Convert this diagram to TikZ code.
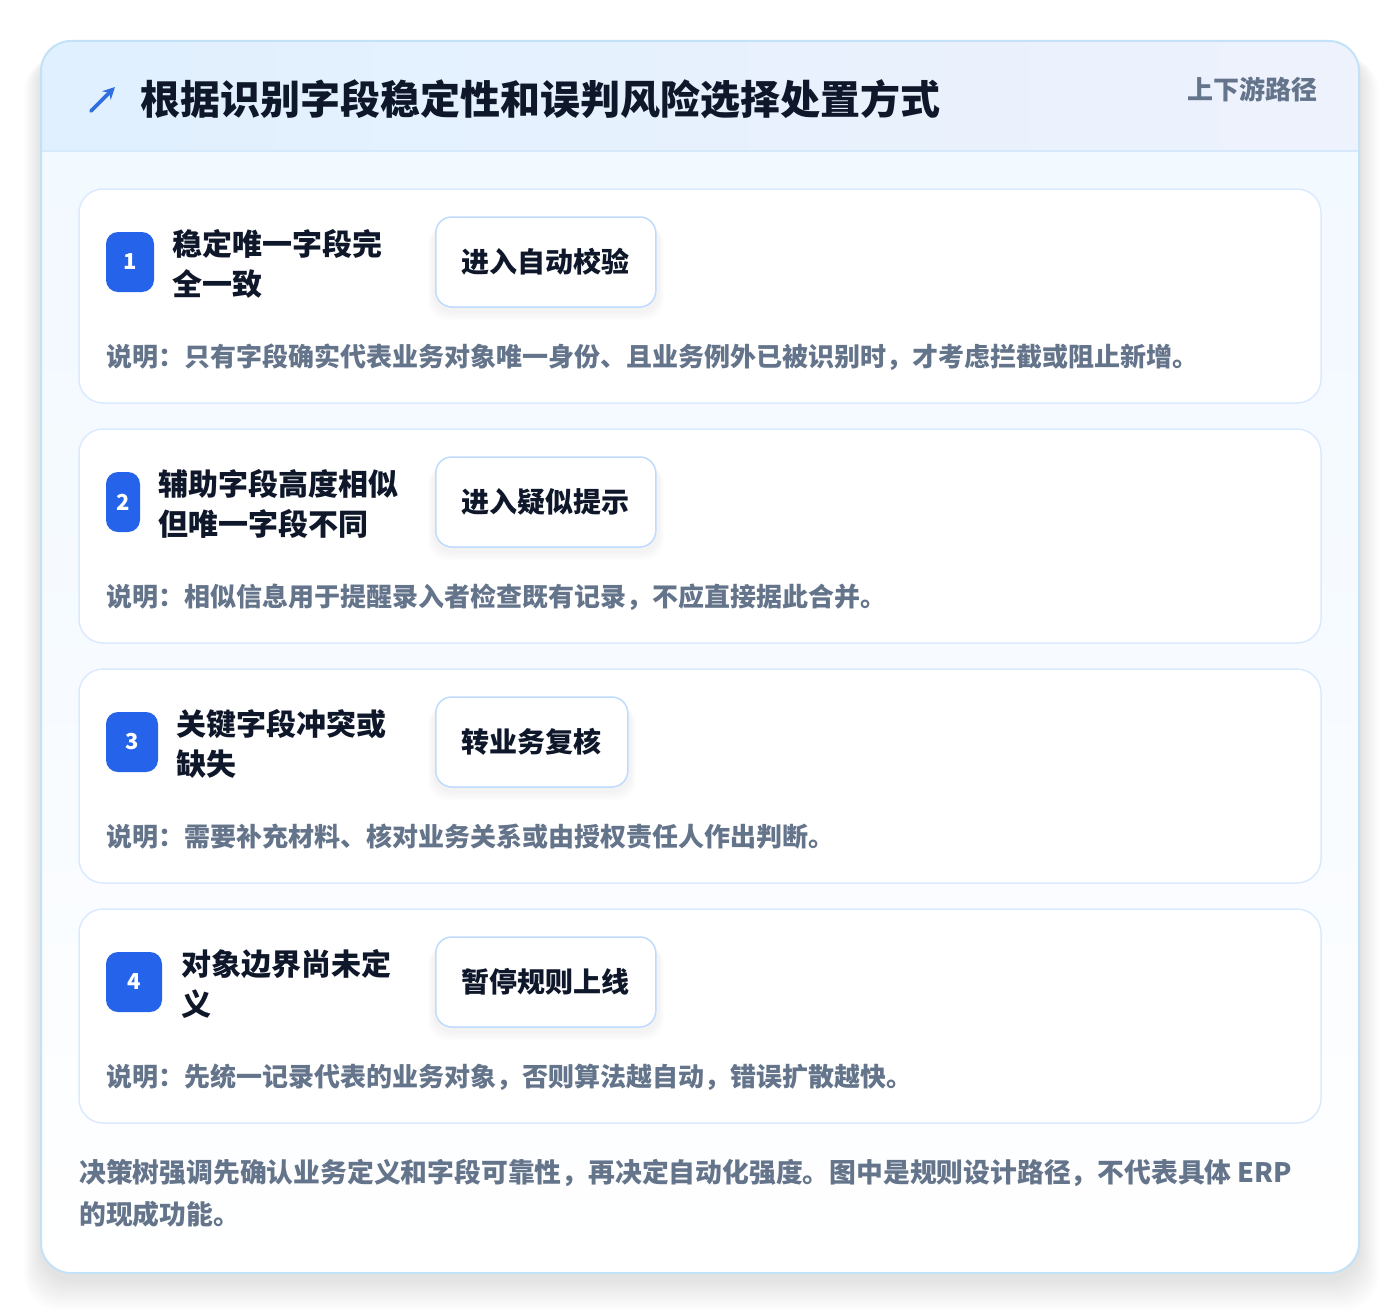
\documentclass[tikz,border=0pt]{standalone}
\usepackage{fontspec}
\newfontfamily\cjk{Noto Sans CJK SC}
\usetikzlibrary{arrows.meta}
\definecolor{ink}{HTML}{0F172A}
\definecolor{muted}{HTML}{64748B}
\definecolor{badgeblue}{HTML}{2563EB}
\definecolor{iconblue}{HTML}{2F6FE0}
\definecolor{cardline}{HTML}{DBEAFE}
\definecolor{actline}{HTML}{BFDBFE}
\definecolor{outerline}{HTML}{C3E2F7}
\definecolor{headL}{HTML}{E0F0FE}
\definecolor{headR}{HTML}{EEF2FD}
\definecolor{bodyT}{HTML}{F1F8FF}
\definecolor{divline}{HTML}{D6E9FB}
\tikzset{
  card/.style={draw=cardline, line width=1.5pt, fill=white, rounded corners=24pt,
    minimum width=1242pt, minimum height=214pt, inner sep=0pt},
  badge/.style={fill=badgeblue, rounded corners=12pt, minimum height=60pt,
    inner sep=0pt, text=white, font=\cjk\bfseries\fontsize{22}{22}\selectfont},
  cond/.style={anchor=west, inner sep=0pt, align=left, text=ink,
    font=\cjk\bfseries\fontsize{30}{40}\selectfont},
  action/.style={anchor=west, draw=actline, line width=1.5pt, fill=white,
    rounded corners=16pt, minimum height=90pt, inner xsep=26pt, inner ysep=0pt,
    text=ink, font=\cjk\bfseries\fontsize{28}{28}\selectfont},
  actshadow/.style={fill=black, opacity=0.008, rounded corners=20pt},
  desc/.style={anchor=west, inner sep=0pt, text=muted,
    font=\cjk\bfseries\fontsize{26}{26}\selectfont},
}
\begin{document}
\begin{tikzpicture}[x=1pt,y=-1pt]
\useasboundingbox (0,0) rectangle (1400,1314);
\fill[white] (0,0) rectangle (1400,1314);
% outer shadow
\foreach \i in {1,...,14}{
  \fill[black, opacity=0.0065, rounded corners=34pt]
    ({41-1.2*\i},{50+0.5*\i}) rectangle ({1359+1.4*\i},{1273+6+2.2*\i});
}
% outer card
\path[rounded corners=30pt, top color=bodyT, bottom color=white, middle color=white!40!bodyT]
  (41,41) rectangle (1359,1273);
\begin{scope}
  \clip[rounded corners=30pt] (41,41) rectangle (1359,1273);
  \shade[left color=headL, right color=headR] (41,41) rectangle (1359,151);
\end{scope}
\draw[divline, line width=1.5pt] (42,151) -- (1358,151);
\draw[outerline, line width=2pt, rounded corners=30pt] (41,41) rectangle (1359,1273);

% header
\coordinate (iconA) at (91,111);
\coordinate (iconB) at (115,87);
\draw[iconblue, line width=3.6pt, line cap=round, -{Stealth[length=12pt,width=12pt]}] (iconA) -- (iconB);
\node[anchor=west, inner sep=0pt, text=ink, font=\cjk\bfseries\fontsize{40}{40}\selectfont]
  (title) at (140,99) {根据识别字段稳定性和误判风险选择处置方式};
\node[anchor=east, inner sep=0pt, text=muted, font=\cjk\bfseries\fontsize{26}{26}\selectfont]
  (path) at (1318,89) {上下游路径};

% cards
\node[card] (card1) at (700,296) {};
\node[card] (card2) at (700,536) {};
\node[card] (card3) at (700,776) {};
\node[card] (card4) at (700,1016) {};

% card 1
\node[badge, minimum width=48pt] (b1) at (130,262) {1};
\node[cond] (k1) at (172,264) {稳定唯一字段完\\全一致};
\foreach \j in {0,...,5}{\fill[actshadow] ({433-\j},{222+\j*0.5}) rectangle ({659+\j},{313+\j*1.5});}
\node[action] (a1) at (435,262) {进入自动校验};
\node[desc] (d1) at (106,357) {说明：只有字段确实代表业务对象唯一身份、且业务例外已被识别时，才考虑拦截或阻止新增。};

% card 2
\node[badge, minimum width=34pt] (b2) at (123,502) {2};
\node[cond] (k2) at (158,504) {辅助字段高度相似\\但唯一字段不同};
\foreach \j in {0,...,5}{\fill[actshadow] ({433-\j},{462+\j*0.5}) rectangle ({659+\j},{553+\j*1.5});}
\node[action] (a2) at (435,502) {进入疑似提示};
\node[desc] (d2) at (106,597) {说明：相似信息用于提醒录入者检查既有记录，不应直接据此合并。};

% card 3
\node[badge, minimum width=52pt] (b3) at (132,742) {3};
\node[cond] (k3) at (176,744) {关键字段冲突或\\缺失};
\foreach \j in {0,...,5}{\fill[actshadow] ({433-\j},{702+\j*0.5}) rectangle ({631+\j},{793+\j*1.5});}
\node[action] (a3) at (435,742) {转业务复核};
\node[desc] (d3) at (106,837) {说明：需要补充材料、核对业务关系或由授权责任人作出判断。};

% card 4
\node[badge, minimum width=56pt] (b4) at (134,982) {4};
\node[cond] (k4) at (181,984) {对象边界尚未定\\义};
\foreach \j in {0,...,5}{\fill[actshadow] ({433-\j},{942+\j*0.5}) rectangle ({659+\j},{1033+\j*1.5});}
\node[action] (a4) at (435,982) {暂停规则上线};
\node[desc] (d4) at (106,1077) {说明：先统一记录代表的业务对象，否则算法越自动，错误扩散越快。};

% footer
\node[anchor=north west, inner sep=0pt, align=left, text=muted,
  font=\cjk\bfseries\fontsize{26.8}{42}\selectfont] (foot) at (79,1159)
  {决策树强调先确认业务定义和字段可靠性，再决定自动化强度。图中是规则设计路径，不代表具体 ERP\\的现成功能。};
\end{tikzpicture}
\end{document}
